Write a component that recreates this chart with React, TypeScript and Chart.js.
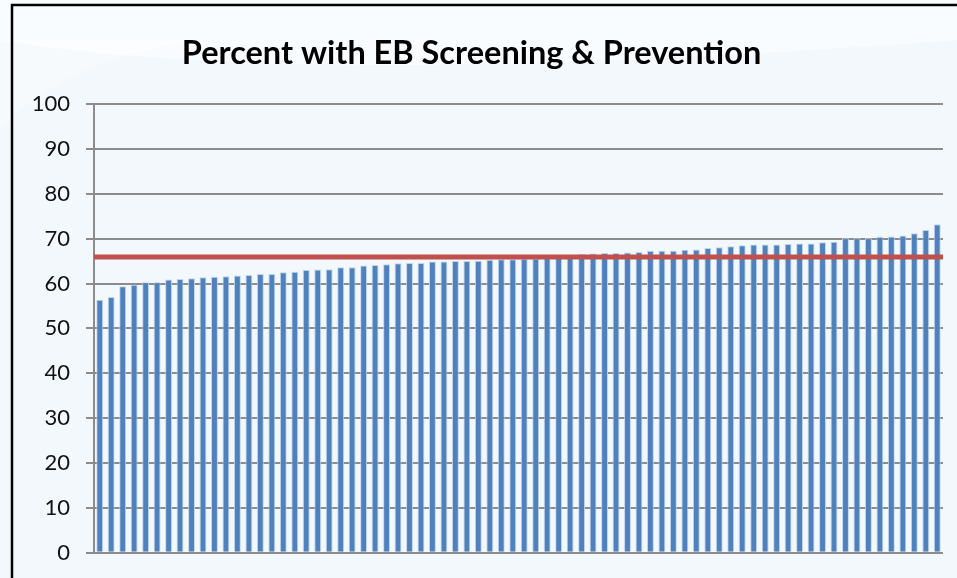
import React, { useEffect, useRef } from "react";
import { Chart, registerables } from "chart.js";

Chart.register(...registerables);

const TITLE = "Percent with EB Screening & Prevention";
const TARGET = 65.9;
const VALUES: number[] = [
  56.4, 57.0, 59.4, 59.7, 60.3, 60.3, 60.9, 61.0, 61.2, 61.4,
  61.5, 61.6, 61.8, 61.9, 62.1, 62.1, 62.5, 62.6, 63.0, 63.1,
  63.2, 63.6, 63.6, 64.0, 64.1, 64.3, 64.5, 64.6, 64.6, 64.9,
  64.9, 65.0, 65.0, 65.1, 65.3, 65.4, 65.4, 65.5, 65.6, 65.8,
  66.0, 66.3, 66.6, 66.7, 66.8, 66.8, 66.9, 67.0, 67.3, 67.3,
  67.3, 67.5, 67.6, 67.9, 68.1, 68.3, 68.5, 68.7, 68.7, 68.7,
  68.8, 68.9, 68.9, 69.2, 69.3, 70.1, 70.1, 70.1, 70.4, 70.5,
  70.7, 71.2, 71.9, 73.2,
];
const CATEGORIES: string[] = VALUES.map((_, i) => String(i + 1));
const Y_MIN = 0;
const Y_MAX = 100;
const Y_STEP = 10;

const W = 957;
const H = 578;

const bgPlugin = {
  id: "bgPlugin",
  beforeDraw(chart: any) {
    const ctx = chart.ctx;
    ctx.save();
    ctx.fillStyle = "#F2F8FC";
    ctx.fillRect(0, 0, W, H);
    ctx.fillStyle = "rgba(255,255,255,0.55)";
    ctx.beginPath();
    ctx.moveTo(0, 0);
    ctx.lineTo(0, 40);
    ctx.quadraticCurveTo(300, 90, 957, 40);
    ctx.lineTo(957, 0);
    ctx.closePath();
    ctx.fill();
    ctx.fillStyle = "rgba(255,255,255,0.35)";
    ctx.beginPath();
    ctx.moveTo(0, 130);
    ctx.quadraticCurveTo(60, 60, 200, 40);
    ctx.lineTo(0, 40);
    ctx.closePath();
    ctx.fill();
    ctx.restore();
  },
};

const targetPlugin = {
  id: "targetPlugin",
  afterDatasetsDraw(chart: any) {
    const ctx = chart.ctx;
    const y = chart.scales.y.getPixelForValue(TARGET);
    const { left, right } = chart.chartArea;
    ctx.save();
    ctx.strokeStyle = "#C0504D";
    ctx.lineWidth = 5;
    ctx.beginPath();
    ctx.moveTo(left, y);
    ctx.lineTo(right, y);
    ctx.stroke();
    ctx.restore();
  },
  afterDraw(chart: any) {
    const ctx = chart.ctx;
    ctx.save();
    ctx.strokeStyle = "#000000";
    ctx.lineWidth = 2.5;
    ctx.beginPath();
    ctx.moveTo(12, H);
    ctx.lineTo(12, 5);
    ctx.lineTo(W, 5);
    ctx.stroke();
    ctx.restore();
  },
};

export default function App() {
  const ref = useRef<HTMLCanvasElement | null>(null);
  useEffect(() => {
    document.body.style.margin = "0";
    const canvas = ref.current;
    if (!canvas) return;
    const chart = new Chart(canvas, {
      type: "bar",
      data: {
        labels: CATEGORIES,
        datasets: [
          {
            data: VALUES,
            backgroundColor: "#4F81BD",
            borderColor: "rgba(190,210,235,0.95)",
            borderWidth: 1,
            borderSkipped: "bottom",
            categoryPercentage: 1,
            barPercentage: 0.6,
          },
        ],
      },
      options: {
        responsive: false,
        animation: false,
        devicePixelRatio: 1,
        layout: { padding: { left: 0, right: 14, top: 0, bottom: 26 } },
        plugins: {
          legend: { display: false },
          tooltip: { enabled: false },
          title: {
            display: true,
            text: TITLE,
            color: "#000000",
            font: { family: "Lato", size: 32.5, weight: "bold" },
            padding: { top: 34, bottom: 31 },
          },
        },
        scales: {
          x: { display: false },
          y: {
            min: Y_MIN,
            max: Y_MAX,
            ticks: {
              stepSize: Y_STEP,
              color: "#111111",
              font: { family: "Lato", size: 22 },
              padding: 16,
            },
            grid: { color: "#8C8C8C", lineWidth: 2, tickLength: 8, drawTicks: true },
            border: { display: true, color: "#8C8C8C", width: 2 },
            afterFit(scale: any) {
              scale.width = 94;
            },
          },
        },
      },
      plugins: [bgPlugin, targetPlugin],
    });
    return () => chart.destroy();
  }, []);
  return (
    <div style={{ width: W, height: H, overflow: "hidden" }}>
      <canvas ref={ref} width={W} height={H + 4} style={{ display: "block" }} />
    </div>
  );
}
